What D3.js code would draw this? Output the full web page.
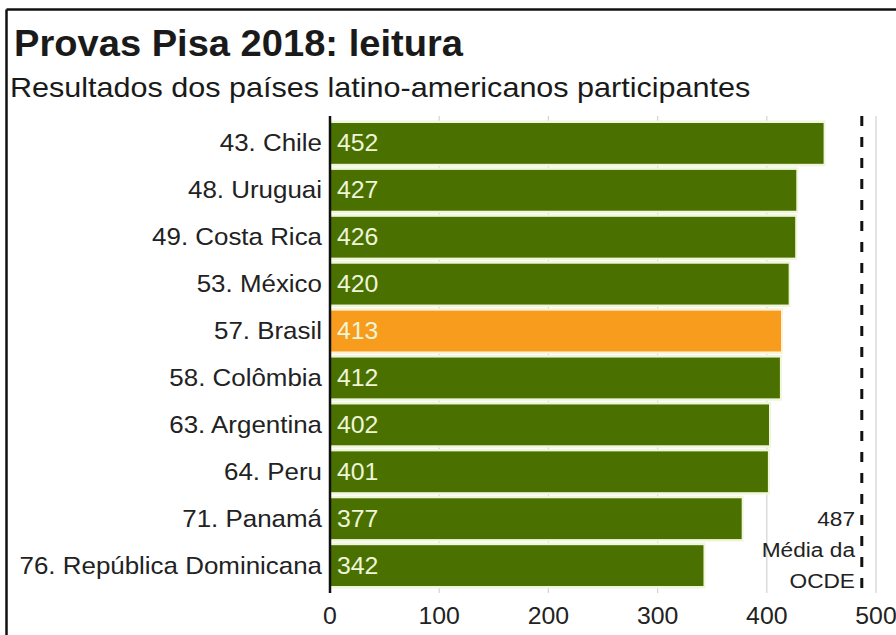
<!DOCTYPE html>
<html>
<head>
<meta charset="utf-8">
<script src="https://cdn.jsdelivr.net/npm/d3@7"></script>
<style>
  html, body { margin: 0; padding: 0; background: #fff; }
  svg { display: block; }
  text { font-family: "Liberation Sans", Arial, Helvetica, sans-serif; }
</style>
</head>
<body>
<svg id="chart" width="896" height="635"></svg>
<script>
// ---- data ----
const categories = ["43. Chile", "48. Uruguai", "49. Costa Rica", "53. México", "57. Brasil",
  "58. Colômbia", "63. Argentina", "64. Peru", "71. Panamá", "76. República Dominicana"];
const scores = [452, 427, 426, 420, 413, 412, 402, 401, 377, 342];
const highlighted = ["57. Brasil"];
const xTicks = [0, 100, 200, 300, 400, 500];
const oecdMean = 487;
const oecdLabel = ["487", "Média da", "OCDE"];
const titleText = "Provas Pisa 2018: leitura";
const subtitleText = "Resultados dos países latino-americanos participantes";

// ---- layout ----
const W = 896, H = 635;
const SX = 1.08; // slight horizontal text stretch seen in the reference
const svg = d3.select("#chart");

const x = d3.scaleLinear().domain([0, 500]).range([330, 876]);
const y = d3.scaleBand().domain(categories).range([123, 586]).paddingInner(0.13).paddingOuter(0);
const plotTop = 116, plotBottom = 593;

const GREEN = "#4a7000", ORANGE = "#f79c1d";
const fillOf = c => highlighted.includes(c) ? ORANGE : GREEN;
const haloOf = c => highlighted.includes(c) ? "#fdf2da" : "#f0f6da";

function stretchedText(sel, px, py, sx = SX) {
  return sel.attr("transform", `translate(${px},${py}) scale(${sx},1)`);
}

// frame (top and left edges visible)
svg.append("line").attr("x1", 6.5).attr("x2", W).attr("y1", 9.5).attr("y2", 9.5)
  .attr("stroke", "#111").attr("stroke-width", 2.5);
svg.append("line").attr("x1", 6.5).attr("x2", 6.5).attr("y1", 9.5).attr("y2", H)
  .attr("stroke", "#111").attr("stroke-width", 2.5);

// title / subtitle
stretchedText(svg.append("text"), 14, 56, 1.03)
  .attr("font-size", 37).attr("font-weight", "bold").attr("fill", "#1a1a1a")
  .text(titleText);
stretchedText(svg.append("text"), 10, 97)
  .attr("font-size", 28.3).attr("fill", "#1a1a1a")
  .text(subtitleText);

// gridlines
svg.append("g").selectAll("line").data(xTicks.filter(t => t > 0)).join("line")
  .attr("x1", d => x(d)).attr("x2", d => x(d))
  .attr("y1", plotTop).attr("y2", plotBottom)
  .attr("stroke", "#d2d2d2").attr("stroke-width", 1.2);

// bar halos (soft edge like reference)
svg.append("g").selectAll("rect").data(categories).join("rect")
  .attr("x", x(0)).attr("y", d => y(d) - 2.5)
  .attr("width", (d, i) => x(scores[i]) - x(0) + 2)
  .attr("height", y.bandwidth() + 5)
  .attr("fill", d => haloOf(d));

// bars
svg.append("g").selectAll("rect").data(categories).join("rect")
  .attr("x", x(0)).attr("y", d => y(d))
  .attr("width", (d, i) => x(scores[i]) - x(0))
  .attr("height", y.bandwidth())
  .attr("fill", d => fillOf(d));

// value labels
svg.append("g").selectAll("text").data(categories).join("text")
  .each(function (d) { stretchedText(d3.select(this), 337, y(d) + y.bandwidth() / 2 + 8); })
  .attr("font-size", 23).attr("fill", "#eef5d8")
  .text((d, i) => scores[i]);

// category labels
svg.append("g").selectAll("text").data(categories).join("text")
  .each(function (d) { stretchedText(d3.select(this), 322, y(d) + y.bandwidth() / 2 + 8); })
  .attr("font-size", 24).attr("text-anchor", "end").attr("fill", "#222")
  .text(d => d);

// y axis line
svg.append("line").attr("x1", x(0)).attr("x2", x(0))
  .attr("y1", plotTop).attr("y2", plotBottom)
  .attr("stroke", "#111").attr("stroke-width", 2.5);

// OECD dashed line
svg.append("line").attr("x1", x(oecdMean)).attr("x2", x(oecdMean))
  .attr("y1", plotTop).attr("y2", plotBottom)
  .attr("stroke", "#111").attr("stroke-width", 3)
  .attr("stroke-dasharray", "10,11");

// OECD label
svg.append("g").selectAll("text").data(oecdLabel).join("text")
  .each(function (d, i) { stretchedText(d3.select(this), 855, 526 + i * 31); })
  .attr("font-size", 21).attr("text-anchor", "end").attr("fill", "#222")
  .text(d => d);

// x tick labels
svg.append("g").selectAll("text").data(xTicks).join("text")
  .each(function (d) { stretchedText(d3.select(this), x(d), 624); })
  .attr("font-size", 23).attr("text-anchor", "middle").attr("fill", "#222")
  .text(d => d);
</script>
</body>
</html>
